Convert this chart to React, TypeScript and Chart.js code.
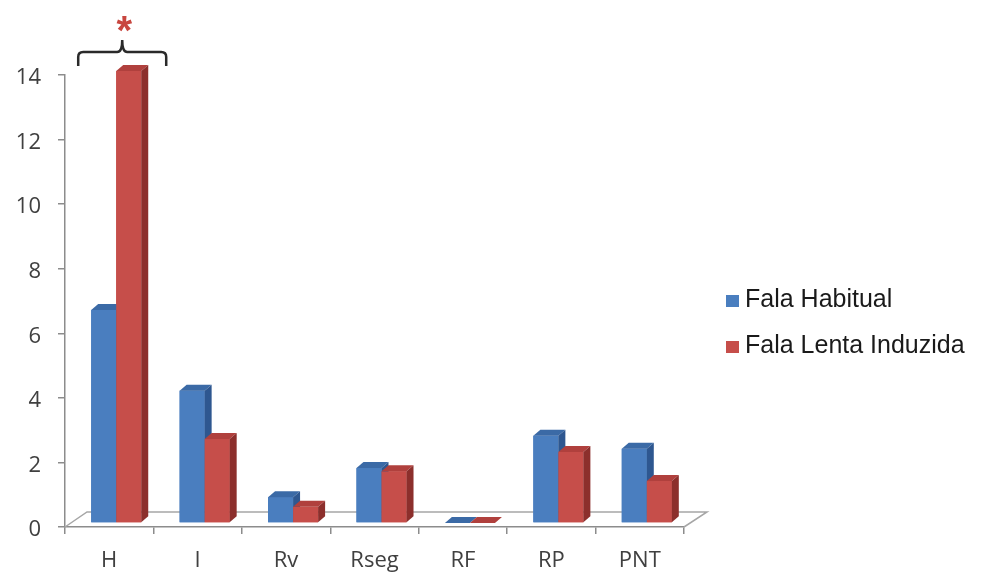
import React, { useEffect, useRef } from "react";
import { Chart, registerables } from "chart.js";

Chart.register(...registerables);

const categories = ["H", "I", "Rv", "Rseg", "RF", "RP", "PNT"];
const falaHabitual = [6.6, 4.1, 0.8, 1.7, 0, 2.7, 2.3];
const falaLentaInduzida = [14, 2.6, 0.5, 1.6, 0, 2.2, 1.3];
const seriesNames = ["Fala Habitual", "Fala Lenta Induzida"];
const yMin = 0;
const yMax = 14;
const yStep = 2;

const FRONT = ["#4a7ebf", "#c64e4a"];
const TOP = ["#3b6aa6", "#b0403d"];
const SIDE = ["#2e5790", "#8c2f2c"];

const OX = 7;
const OY = -4;
const DX = 7;
const DY = -6;

const threeD = {
  id: "threeD",
  beforeDatasetsDraw(chart: any) {
    const { ctx, chartArea } = chart;
    const { left, right, bottom } = chartArea;
    // floor
    ctx.save();
    ctx.strokeStyle = "#a6a6a6";
    ctx.lineWidth = 1.5;
    ctx.beginPath();
    ctx.moveTo(left, bottom);
    ctx.lineTo(left + 22, bottom - 15);
    ctx.lineTo(right + 23, bottom - 15);
    ctx.lineTo(right, bottom);
    ctx.stroke();
    ctx.restore();
    ctx.save();
    ctx.translate(OX, OY);
  },
  afterDatasetsDraw(chart: any) {
    const { ctx } = chart;
    const n = chart.data.labels.length;
    for (let k = 0; k < n; k++) {
      chart.data.datasets.forEach((_ds: any, i: number) => {
        const meta = chart.getDatasetMeta(i);
        const el = meta.data[k];
        if (!el) return;
        const { x, y, base, width } = el.getProps(["x", "y", "base", "width"], true);
        const x0 = x - width / 2;
        const x1 = x + width / 2;
        // front
        ctx.fillStyle = FRONT[i];
        ctx.fillRect(x0, y, width, base - y);
        // top
        ctx.fillStyle = TOP[i];
        ctx.beginPath();
        ctx.moveTo(x0, y);
        ctx.lineTo(x1, y);
        ctx.lineTo(x1 + DX, y + DY);
        ctx.lineTo(x0 + DX, y + DY);
        ctx.closePath();
        ctx.fill();
        // side
        ctx.fillStyle = SIDE[i];
        ctx.beginPath();
        ctx.moveTo(x1, y);
        ctx.lineTo(x1 + DX, y + DY);
        ctx.lineTo(x1 + DX, base + DY);
        ctx.lineTo(x1, base);
        ctx.closePath();
        ctx.fill();
      });
    }
    ctx.restore();
  },
  afterDraw(chart: any) {
    const { ctx } = chart;
    const xs = chart.scales.x;
    // legend
    ctx.save();
    ctx.font = "25px 'Liberation Sans', Arial, sans-serif";
    ctx.textBaseline = "alphabetic";
    ctx.textAlign = "left";
    const baselines = [307, 353];
    chart.data.datasets.forEach((ds: any, i: number) => {
      const b = baselines[i];
      ctx.fillStyle = FRONT[i];
      ctx.fillRect(726, b - 12, 13, 12);
      ctx.fillStyle = "#1a1a1a";
      ctx.fillText(ds.label, 745, b);
    });
    // bracket
    const cx = xs.getPixelForValue(0) + 13;
    const half = 44;
    const top = 52;
    ctx.strokeStyle = "#2a2a2a";
    ctx.lineWidth = 2.5;
    ctx.beginPath();
    ctx.moveTo(cx - half, top + 14);
    ctx.lineTo(cx - half, top + 5);
    ctx.quadraticCurveTo(cx - half, top, cx - half + 5, top);
    ctx.lineTo(cx - 5, top);
    ctx.quadraticCurveTo(cx, top, cx, top - 12);
    ctx.quadraticCurveTo(cx, top, cx + 5, top);
    ctx.lineTo(cx + half - 5, top);
    ctx.quadraticCurveTo(cx + half, top, cx + half, top + 5);
    ctx.lineTo(cx + half, top + 14);
    ctx.stroke();
    // asterisk
    ctx.fillStyle = "#c8463f";
    ctx.font = "bold 40px 'Liberation Sans', Arial, sans-serif";
    ctx.textAlign = "center";
    ctx.fillText("*", cx + 2, 44);
    ctx.restore();
  },
};

export default function App() {
  const ref = useRef<HTMLCanvasElement>(null);
  useEffect(() => {
    if (!ref.current) return;
    const chart = new Chart(ref.current, {
      type: "bar",
      data: {
        labels: categories,
        datasets: [
          { label: seriesNames[0], data: falaHabitual, backgroundColor: FRONT[0], clip: false as any },
          { label: seriesNames[1], data: falaLentaInduzida, backgroundColor: FRONT[1], clip: false as any },
        ],
      },
      options: {
        responsive: false,
        animation: false,
        datasets: { bar: { categoryPercentage: 0.566, barPercentage: 1 } },
        layout: { padding: { left: 0, top: 75, right: 297, bottom: 0 } },
        plugins: { legend: { display: false }, tooltip: { enabled: false } },
        scales: {
          x: {
            ticks: { padding: 14, color: "#404040", font: { family: "Open Sans", size: 22 } },
            grid: { drawOnChartArea: false, tickLength: 7, offset: true, color: "#8c8c8c", lineWidth: 1.5 },
            border: { color: "#8c8c8c", width: 1.5 },
            afterFit(s: any) { s.height = 49; },
          },
          y: {
            min: yMin,
            max: yMax,
            ticks: { stepSize: yStep, padding: 17, labelOffset: 3, color: "#404040", font: { family: "Open Sans", size: 22 } },
            grid: { drawOnChartArea: false, tickLength: 7, color: "#8c8c8c", lineWidth: 1.5 },
            border: { color: "#8c8c8c", width: 1.5 },
            afterFit(s: any) { s.width = 65; },
          },
        },
      },
      plugins: [threeD],
    });
    return () => chart.destroy();
  }, []);
  return (
    <div style={{ position: "fixed", left: 0, top: 0, width: 981, height: 576, background: "#fff" }}>
      <canvas ref={ref} width={981} height={576} style={{ display: "block" }} />
    </div>
  );
}
